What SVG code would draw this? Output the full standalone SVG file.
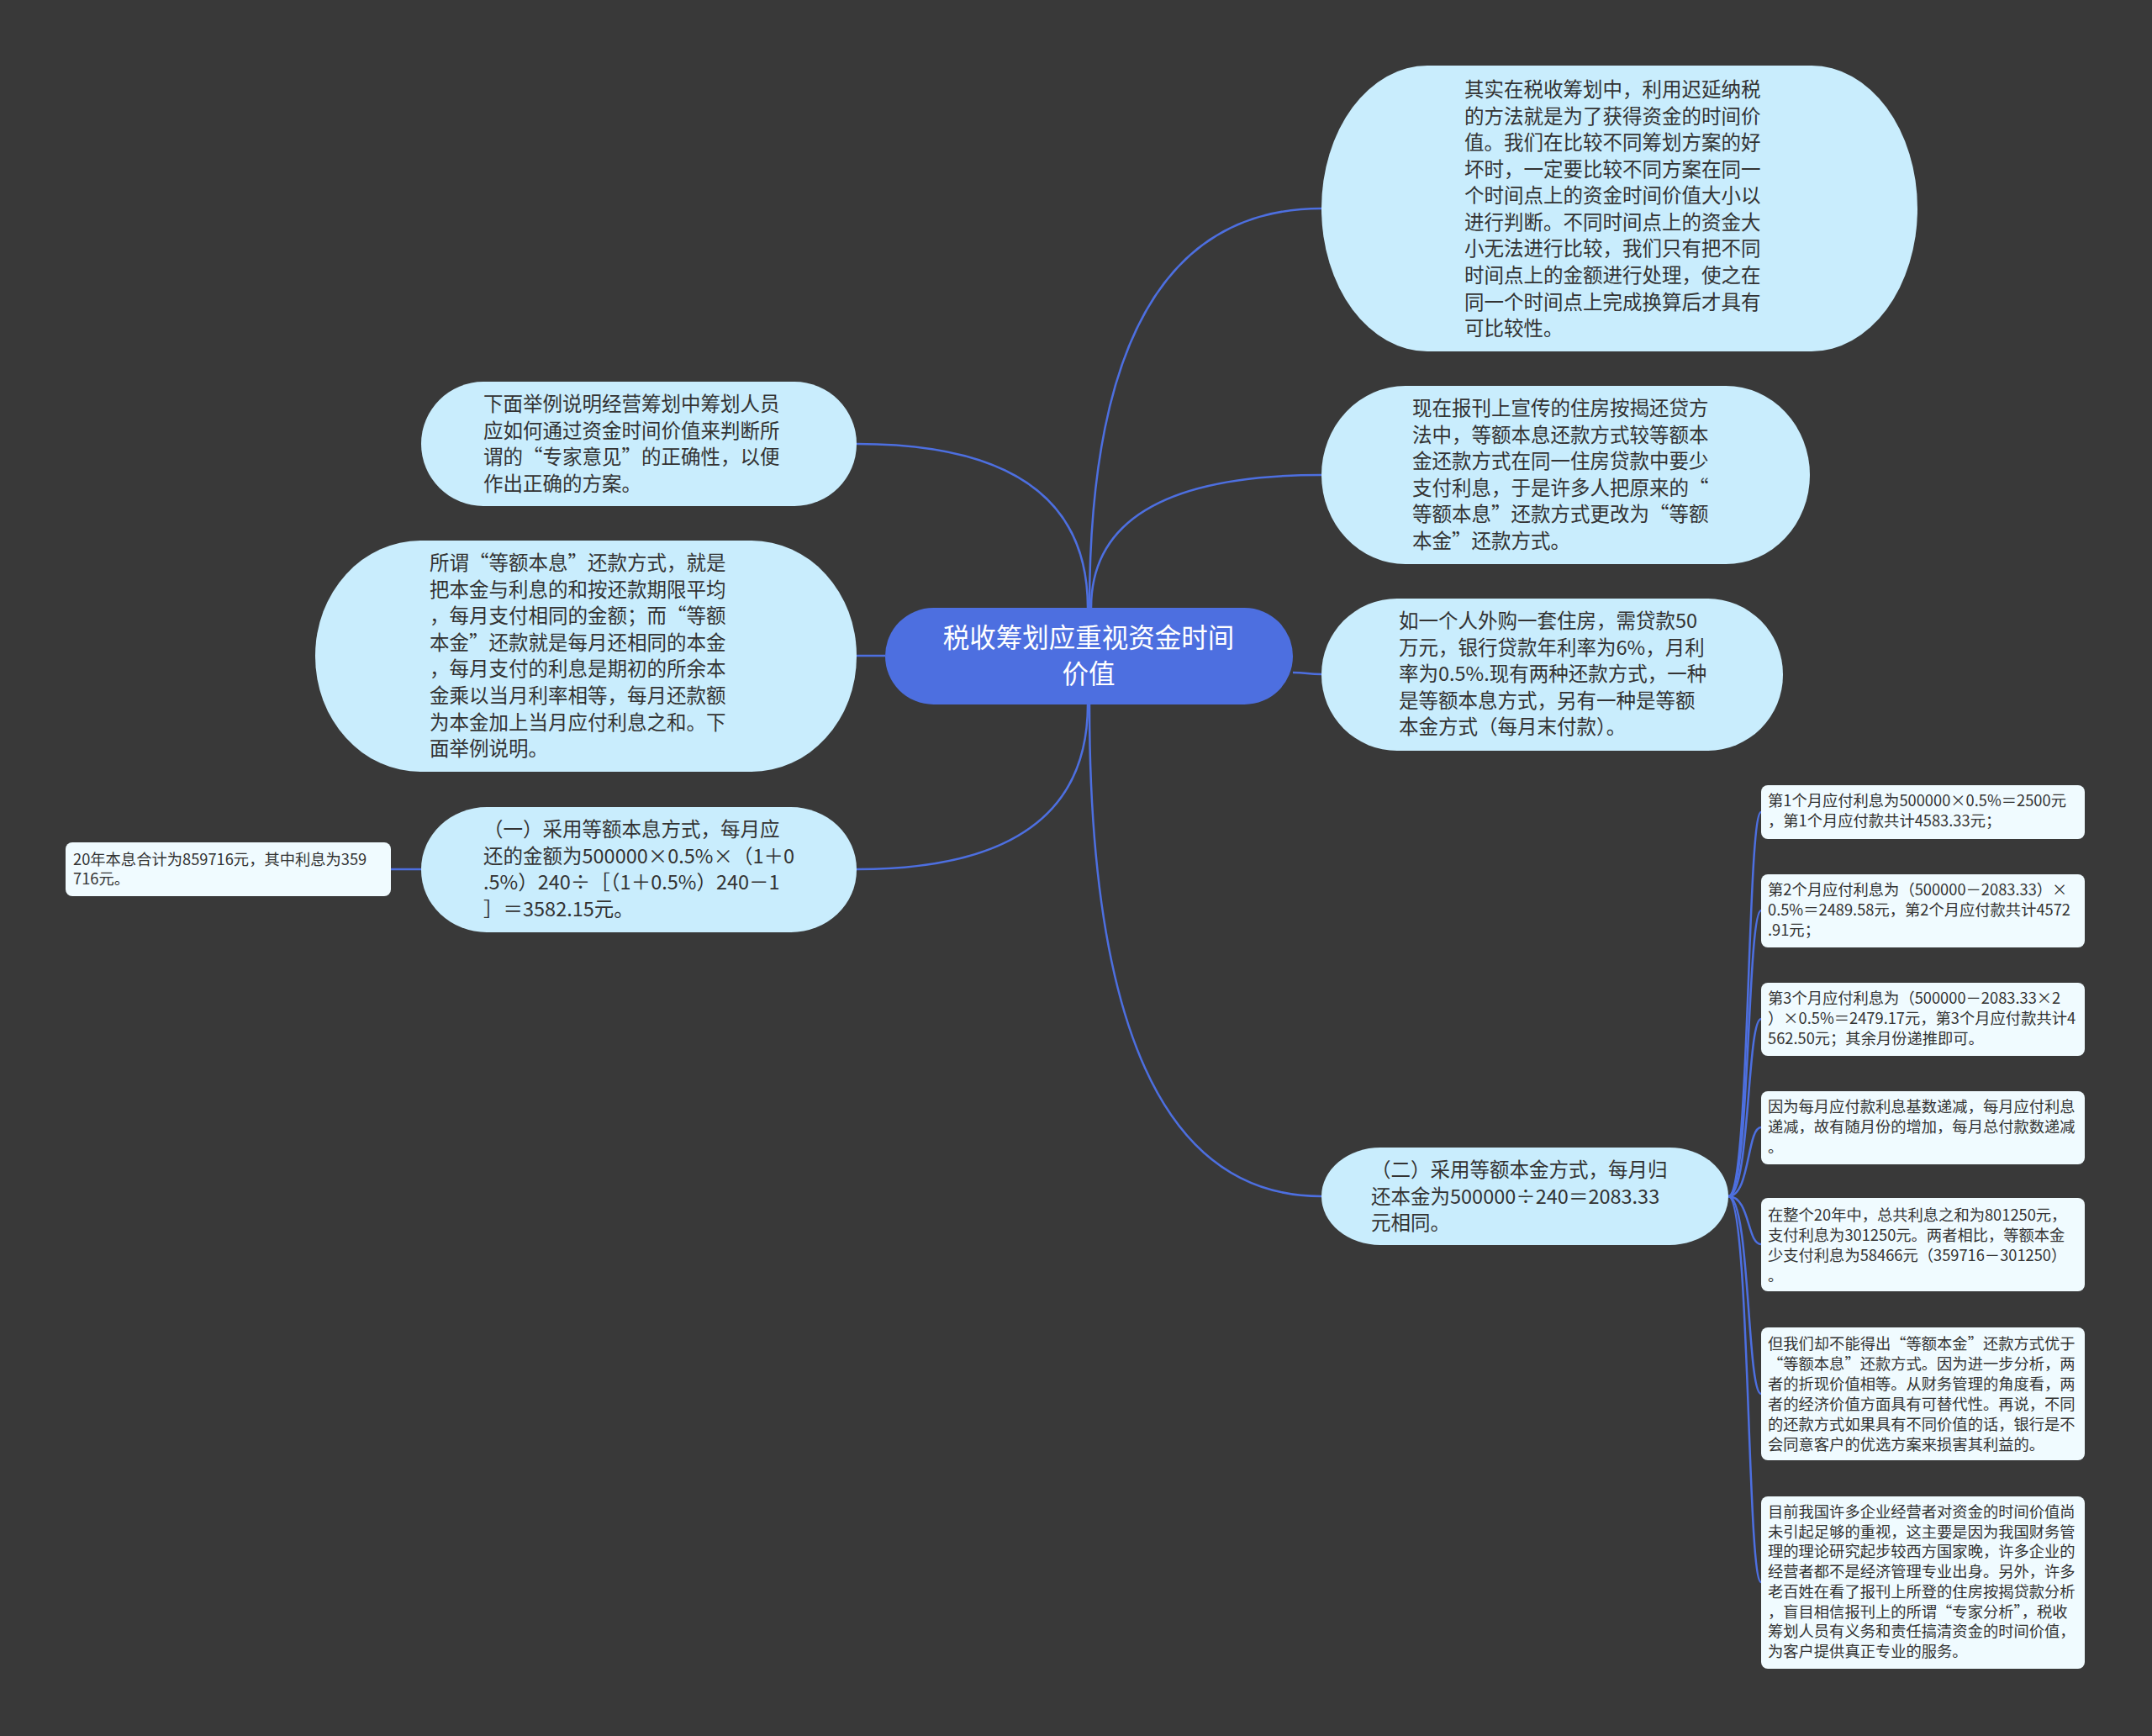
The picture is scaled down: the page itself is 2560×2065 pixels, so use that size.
<svg xmlns="http://www.w3.org/2000/svg" width="2560" height="2065" viewBox="0 0 2560 2065">
<style>
.bg{fill:#393939}
.bub{fill:#c9edfd}
.leaf{fill:#f0fbff}
.root{fill:#4d6fe0}
.t{font-family:"Noto Sans CJK SC","Noto Sans",sans-serif;font-size:23.5px;fill:#333}
.s{font-family:"Noto Sans CJK SC","Noto Sans",sans-serif;font-size:18.3px;fill:#333}
.r{font-family:"Noto Sans CJK SC","Noto Sans",sans-serif;font-size:31.5px;fill:#fff;text-anchor:middle}
.c{fill:none;stroke:#4d6fe0;stroke-width:2.5}
</style>
<rect class="bg" x="0" y="0" width="2560" height="2065"/>
<g id="connectors">
<path class="c" d="M1296,723 Q1296,248 1572,248"/>
<path class="c" d="M1298,723 Q1298,565 1572,565"/>
<path class="c" d="M1538,800 C1555,800 1555,802 1572,802"/>
<path class="c" d="M1294,723 Q1294,528 1019,528"/>
<path class="c" d="M1053,780 L1019,780"/>
<path class="c" d="M1294,838 Q1294,1034 1019,1034"/>
<path class="c" d="M1296,838 Q1296,1423 1572,1423"/>
<path class="c" d="M501,1034 L465,1034"/>
<path class="c" d="M2056,1423 C2082,1423 2078,966 2095,966"/>
<path class="c" d="M2056,1423 C2082,1423 2078,1083 2095,1083"/>
<path class="c" d="M2056,1423 C2082,1423 2078,1212 2095,1212"/>
<path class="c" d="M2056,1423 C2082,1423 2078,1341 2095,1341"/>
<path class="c" d="M2056,1423 C2082,1423 2078,1480 2095,1480"/>
<path class="c" d="M2056,1423 C2082,1423 2078,1658 2095,1658"/>
<path class="c" d="M2056,1423 C2082,1423 2078,1882 2095,1882"/>
</g>
<g id="root">
<rect class="root" x="1053" y="723" width="485" height="115" rx="57.5"/>
<text class="r"><tspan x="1295" y="770">税收筹划应重视资金时间</tspan><tspan x="1295" y="813">价值</tspan></text>
</g>
<g id="nodeA">
<rect class="bub" x="1572" y="78" width="709" height="340" rx="126" ry="170"/>
<text class="t">
<tspan x="1742" y="115">其实在税收筹划中，利用迟延纳税</tspan>
<tspan x="1742" y="146.6">的方法就是为了获得资金的时间价</tspan>
<tspan x="1742" y="178.1">值。我们在比较不同筹划方案的好</tspan>
<tspan x="1742" y="209.7">坏时，一定要比较不同方案在同一</tspan>
<tspan x="1742" y="241.2">个时间点上的资金时间价值大小以</tspan>
<tspan x="1742" y="272.8">进行判断。不同时间点上的资金大</tspan>
<tspan x="1742" y="304.4">小无法进行比较，我们只有把不同</tspan>
<tspan x="1742" y="335.9">时间点上的金额进行处理，使之在</tspan>
<tspan x="1742" y="367.5">同一个时间点上完成换算后才具有</tspan>
<tspan x="1742" y="399">可比较性。</tspan>
</text>
</g>
<g id="nodeB">
<rect class="bub" x="1572" y="459" width="581" height="212" rx="100" ry="106"/>
<text class="t">
<tspan x="1680" y="494">现在报刊上宣传的住房按揭还贷方</tspan>
<tspan x="1680" y="525.6">法中，等额本息还款方式较等额本</tspan>
<tspan x="1680" y="557.2">金还款方式在同一住房贷款中要少</tspan>
<tspan x="1680" y="588.8">支付利息，于是许多人把原来的“</tspan>
<tspan x="1680" y="620.4">等额本息”还款方式更改为“等额</tspan>
<tspan x="1680" y="652">本金”还款方式。</tspan>
</text>
</g>
<g id="nodeC">
<rect class="bub" x="1572" y="712" width="549" height="181" rx="90" ry="90"/>
<text class="t">
<tspan x="1664" y="747">如一个人外购一套住房，需贷款50</tspan>
<tspan x="1664" y="778.5">万元，银行贷款年利率为6%，月利</tspan>
<tspan x="1664" y="810">率为0.5%.现有两种还款方式，一种</tspan>
<tspan x="1664" y="841.5">是等额本息方式，另有一种是等额</tspan>
<tspan x="1664" y="873">本金方式（每月末付款）。</tspan>
</text>
</g>
<g id="nodeD">
<rect class="bub" x="1572" y="1365" width="484" height="116" rx="70" ry="58"/>
<text class="t">
<tspan x="1631" y="1400">（二）采用等额本金方式，每月归</tspan>
<tspan x="1631" y="1431.5">还本金为500000÷240＝2083.33</tspan>
<tspan x="1631" y="1463">元相同。</tspan>
</text>
</g>
<g id="nodeE">
<rect class="bub" x="501" y="454" width="518" height="148" rx="74"/>
<text class="t">
<tspan x="575" y="489">下面举例说明经营筹划中筹划人员</tspan>
<tspan x="575" y="520.5">应如何通过资金时间价值来判断所</tspan>
<tspan x="575" y="552">谓的“专家意见”的正确性，以便</tspan>
<tspan x="575" y="583.5">作出正确的方案。</tspan>
</text>
</g>
<g id="nodeF">
<rect class="bub" x="375" y="643" width="644" height="275" rx="125" ry="137"/>
<text class="t">
<tspan x="511" y="678">所谓“等额本息”还款方式，就是</tspan>
<tspan x="511" y="709.6">把本金与利息的和按还款期限平均</tspan>
<tspan x="511" y="741.2">，每月支付相同的金额；而“等额</tspan>
<tspan x="511" y="772.8">本金”还款就是每月还相同的本金</tspan>
<tspan x="511" y="804.4">，每月支付的利息是期初的所余本</tspan>
<tspan x="511" y="836">金乘以当月利率相等，每月还款额</tspan>
<tspan x="511" y="867.6">为本金加上当月应付利息之和。下</tspan>
<tspan x="511" y="899.2">面举例说明。</tspan>
</text>
</g>
<g id="nodeG">
<rect class="bub" x="501" y="960" width="518" height="149" rx="78" ry="74"/>
<text class="t">
<tspan x="575" y="995">（一）采用等额本息方式，每月应</tspan>
<tspan x="575" y="1026.5">还的金额为500000×0.5%×（1＋0</tspan>
<tspan x="575" y="1058">.5%）240÷［（1＋0.5%）240－1</tspan>
<tspan x="575" y="1089.5">］＝3582.15元。</tspan>
</text>
</g>
<g id="nodeH">
<rect class="leaf" x="78" y="1002" width="387" height="64" rx="8"/>
<text class="s">
<tspan x="87" y="1029">20年本息合计为859716元，其中利息为359</tspan>
<tspan x="87" y="1052">716元。</tspan>
</text>
</g>
<g id="leaf1">
<rect class="leaf" x="2095" y="934" width="385" height="64" rx="8"/>
<text class="s">
<tspan x="2103" y="959">第1个月应付利息为500000×0.5%＝2500元</tspan>
<tspan x="2103" y="983">，第1个月应付款共计4583.33元；</tspan>
</text>
</g>
<g id="leaf2">
<rect class="leaf" x="2095" y="1040" width="385" height="87" rx="8"/>
<text class="s">
<tspan x="2103" y="1065">第2个月应付利息为（500000－2083.33）×</tspan>
<tspan x="2103" y="1089">0.5%＝2489.58元，第2个月应付款共计4572</tspan>
<tspan x="2103" y="1113">.91元；</tspan>
</text>
</g>
<g id="leaf3">
<rect class="leaf" x="2095" y="1169" width="385" height="87" rx="8"/>
<text class="s">
<tspan x="2103" y="1194">第3个月应付利息为（500000－2083.33×2</tspan>
<tspan x="2103" y="1218">）×0.5%＝2479.17元，第3个月应付款共计4</tspan>
<tspan x="2103" y="1242">562.50元；其余月份递推即可。</tspan>
</text>
</g>
<g id="leaf4">
<rect class="leaf" x="2095" y="1298" width="385" height="87" rx="8"/>
<text class="s">
<tspan x="2103" y="1323">因为每月应付款利息基数递减，每月应付利息</tspan>
<tspan x="2103" y="1347">递减，故有随月份的增加，每月总付款数递减</tspan>
<tspan x="2103" y="1371">。</tspan>
</text>
</g>
<g id="leaf5">
<rect class="leaf" x="2095" y="1425" width="385" height="111" rx="8"/>
<text class="s">
<tspan x="2103" y="1452">在整个20年中，总共利息之和为801250元，</tspan>
<tspan x="2103" y="1476">支付利息为301250元。两者相比，等额本金</tspan>
<tspan x="2103" y="1499.5">少支付利息为58466元（359716－301250）</tspan>
<tspan x="2103" y="1523.5">。</tspan>
</text>
</g>
<g id="leaf6">
<rect class="leaf" x="2095" y="1579" width="385" height="158" rx="8"/>
<text class="s">
<tspan x="2103" y="1605">但我们却不能得出“等额本金”还款方式优于</tspan>
<tspan x="2103" y="1629">“等额本息”还款方式。因为进一步分析，两</tspan>
<tspan x="2103" y="1653">者的折现价值相等。从财务管理的角度看，两</tspan>
<tspan x="2103" y="1677">者的经济价值方面具有可替代性。再说，不同</tspan>
<tspan x="2103" y="1701">的还款方式如果具有不同价值的话，银行是不</tspan>
<tspan x="2103" y="1725">会同意客户的优选方案来损害其利益的。</tspan>
</text>
</g>
<g id="leaf7">
<rect class="leaf" x="2095" y="1780" width="385" height="205" rx="8"/>
<text class="s">
<tspan x="2103" y="1805">目前我国许多企业经营者对资金的时间价值尚</tspan>
<tspan x="2103" y="1828.7">未引起足够的重视，这主要是因为我国财务管</tspan>
<tspan x="2103" y="1852.4">理的理论研究起步较西方国家晚，许多企业的</tspan>
<tspan x="2103" y="1876.1">经营者都不是经济管理专业出身。另外，许多</tspan>
<tspan x="2103" y="1899.8">老百姓在看了报刊上所登的住房按揭贷款分析</tspan>
<tspan x="2103" y="1923.5">，盲目相信报刊上的所谓“专家分析”，税收</tspan>
<tspan x="2103" y="1947.2">筹划人员有义务和责任搞清资金的时间价值，</tspan>
<tspan x="2103" y="1970.9">为客户提供真正专业的服务。</tspan>
</text>
</g>
</svg>
